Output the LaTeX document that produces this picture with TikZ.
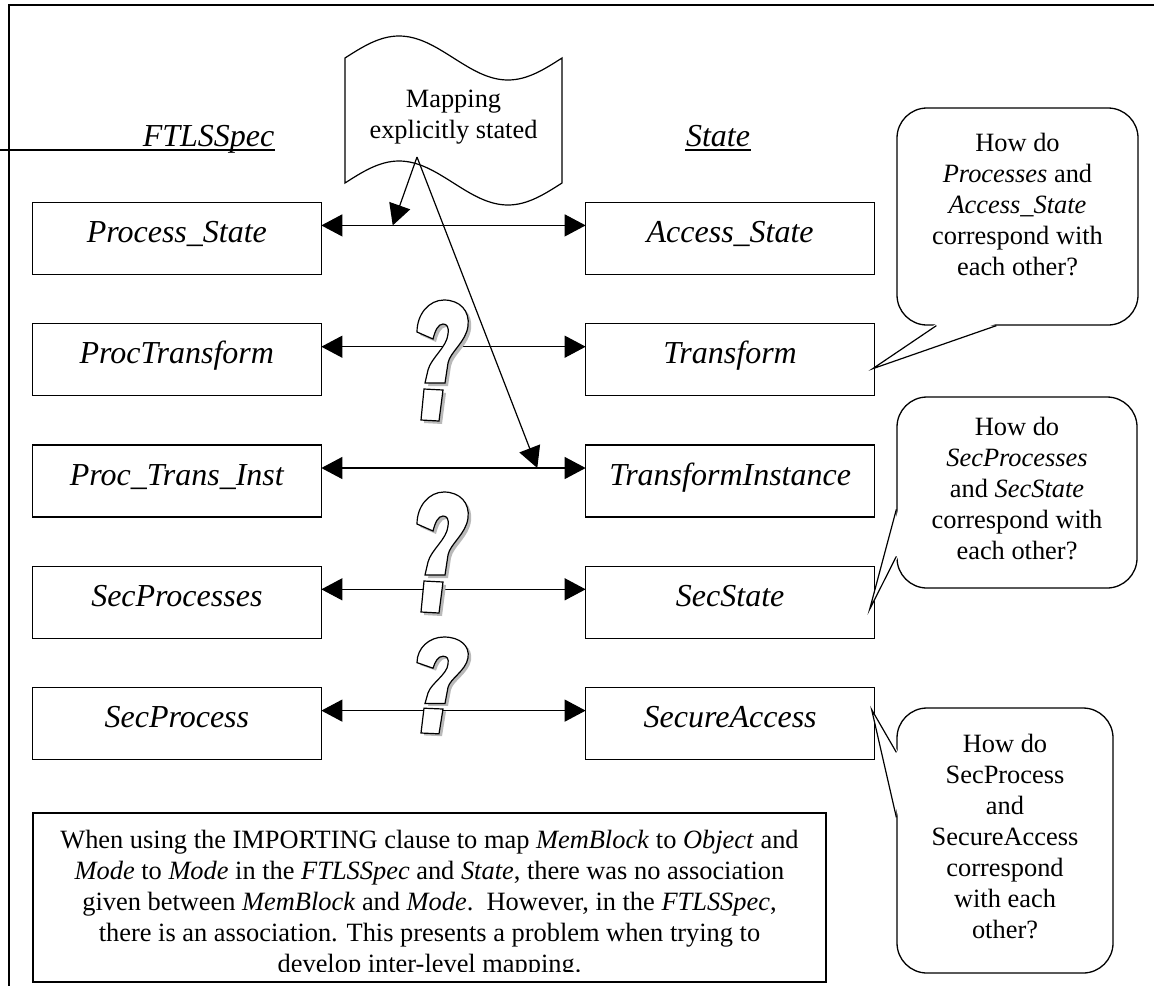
\documentclass[tikz,border=0pt]{standalone}
\usepackage{fontspec}
\setmainfont{Liberation Serif}
\usetikzlibrary{matrix,arrows.meta}

\tikzset{
  cell/.style={draw, line width=0.65pt, outer sep=0pt, inner sep=0pt,
    minimum width=144.5pt, minimum height=36pt,
    font=\fontsize{16}{19}\selectfont\itshape, text height=10pt, text depth=6pt},
  hdr/.style={inner sep=0pt, font=\fontsize{16}{19}\selectfont\itshape},
  say/.style={inner sep=0pt, align=center, font=\fontsize{13.2}{15.5}\selectfont},
  bubble/.style={draw, fill=white, line width=0.65pt, rounded corners=15pt, inner sep=0pt},
  qmark/.pic={
    \foreach \s/\f/\d in {3/gray!55/none, 0/white/black}
      \path[fill=\f, draw=\d, line width=0.6pt, shift={(\s,\s)}]
        (8,83) -- (11,70) .. controls (14,58) and (30,47) .. (31,34)
        .. controls (32,27) and (30,24) .. (26,24)
        .. controls (21,24) and (18,31) .. (16,39) -- (0,32)
        .. controls (0,14) and (12,0) .. (27,0)
        .. controls (43,0) and (53,11) .. (51,26)
        .. controls (49,42) and (33,52) .. (31,63) -- (28,83) -- cycle
        (7,89) -- (26,90) -- (22,121) -- (4,120) -- cycle;
  }
}

\begin{document}
\begin{tikzpicture}[x=0.5pt, y=-0.5pt, line width=0.6pt,
  >={Triangle[length=10.5pt,width=11pt]}]
  \useasboundingbox (0,0) rectangle (1154,986);
  % frame
  \draw (1154,5) -- (9,5) -- (9,986);

  % column headings
  \node[hdr, anchor=base east] (fspec) at (275,146) {FTLSSpec};
  \node[hdr, anchor=base] (sspec) at (718,146) {State};
  \draw ([yshift=-2pt]fspec.base east) -- ++(-275,0);
  \draw ([yshift=-2pt]sspec.base west) -- ([yshift=-2pt]sspec.base east);

  \matrix (m) [matrix of nodes, nodes={cell}, row sep=24pt, column sep=131.5pt] at (453.5,481)
  {
Process\_State & Access\_State \\
ProcTransform & Transform \\
Proc\_Trans\_Inst & TransformInstance \\
SecProcesses & SecState \\
SecProcess & SecureAccess \\
};
  \path[<->]
  ([yshift=6.5pt]m-1-1.east) edge node[coordinate, pos=.27] (hit1) {} ([yshift=6.5pt]m-1-2.west)
  ([yshift=6.5pt]m-2-1.east) edge ([yshift=6.5pt]m-2-2.west)
  ([yshift=6.5pt]m-3-1.east) edge node[coordinate, pos=.817] (hit3) {} ([yshift=6.5pt]m-3-2.west)
  ([yshift=6.5pt]m-4-1.east) edge ([yshift=6.5pt]m-4-2.west)
  ([yshift=6.5pt]m-5-1.east) edge ([yshift=6.5pt]m-5-2.west)
  ;

  % mapping tape
  \draw[fill=white] (345,58) sin (399,36) cos (453.5,58) sin (508,80) cos (562,58)
    -- (562,183) sin (508,205) cos (453.5,183) sin (399,161) cos (345,183) -- cycle;
  \node[say] (map) at (453.5,117.5) {Mapping\\explicitly stated};
  \coordinate (mtail) at (417,157);
  \path[->]
  (mtail) edge (hit1)
  (mtail) edge (hit3)
  ;

  % question marks
  \pic at (417,300) {qmark};
  \pic at (417,492) {qmark};
  \pic[yscale=.8] at (417,637) {qmark};

  % callouts
  \node[bubble, minimum width=120.5pt, minimum height=108.5pt] (c1) at (1017.5,216.5) {};
  \node[say] (c1t) at ([yshift=6pt]c1) {How do\\\emph{Processes} and\\\emph{Access\_State}\\correspond with\\each other?};
  \coordinate (c1a) at ([xshift=20pt]c1.south west);
  \coordinate (c1b) at ([xshift=50pt]c1.south west);
  \coordinate (c1p) at ([shift={(-1pt,-4.5pt)}]m-2-2.east);
  \fill[white] ([yshift=1pt]c1a) -- (c1p) -- ([yshift=1pt]c1b) -- cycle;
  \draw (c1a) -- (c1p) -- (c1b);

  \node[bubble, minimum width=120pt, minimum height=95.5pt] (c2) at (1017,492.5) {};
  \node[say] (c2t) at ([yshift=1.75pt]c2) {How do\\\emph{SecProcesses}\\and \emph{SecState}\\correspond with\\each other?};
  \coordinate (c2a) at ([yshift=-56.5pt]c2.north west);
  \coordinate (c2b) at ([yshift=-80pt]c2.north west);
  \coordinate (c2p) at ([shift={(-2.5pt,-3.5pt)}]m-4-2.east);
  \fill[white] ([xshift=1pt]c2a) -- (c2p) -- ([xshift=1pt]c2b) -- cycle;
  \draw (c2a) -- (c2p) -- (c2b);

  \node[bubble, minimum width=108pt, minimum height=132.5pt] (c3) at (1005,840.5) {};
  \node[say] (c3t) at ([yshift=1.75pt]c3) {How do\\SecProcess\\and\\SecureAccess\\correspond\\with each\\other?};
  \coordinate (c3a) at ([yshift=-22.5pt]c3.north west);
  \coordinate (c3b) at ([yshift=-55pt]c3.north west);
  \coordinate (c3p) at ([shift={(-1.5pt,7pt)}]m-5-2.east);
  \fill[white] ([xshift=1pt]c3a) -- (c3p) -- ([xshift=1pt]c3b) -- cycle;
  \draw (c3a) -- (c3p) -- (c3b);

  % note at the bottom
  \node[draw, line width=0.65pt, minimum width=396.5pt, minimum height=84.5pt] (note) at (429.5,897.5) {};
  \begin{scope}
    \clip (note.north west) rectangle ([yshift=5.5pt]note.south east);
    \node[say, anchor=north] (notet) at ([yshift=-8.5pt]note.north)
    {When using the IMPORTING clause to map \emph{MemBlock} to \emph{Object} and\\
     \emph{Mode} to \emph{Mode} in the \emph{FTLSSpec} and \emph{State}, there was no association\\
     given between \emph{MemBlock} and \emph{Mode}.\ \ However, in the \emph{FTLSSpec},\\
     there is an association. This presents a problem when trying to\\
     develop inter-level mapping.};
  \end{scope}
\end{tikzpicture}
\end{document}
